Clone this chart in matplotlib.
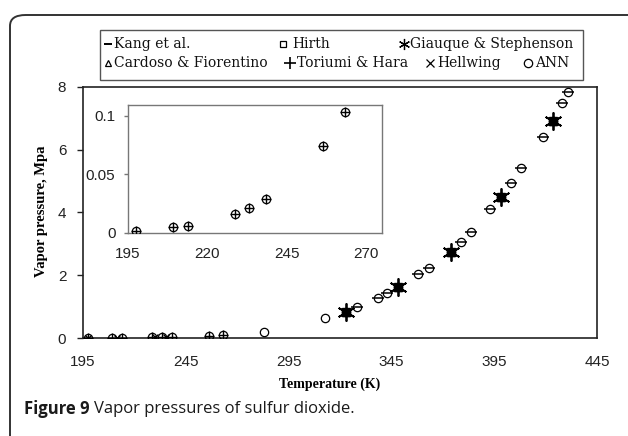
import matplotlib
matplotlib.use("Agg")
import matplotlib.pyplot as plt
from matplotlib.lines import Line2D
from matplotlib.patches import FancyBboxPatch, Rectangle

# ---------------- data ----------------
ann_T = [197.6, 209.3, 213.8, 228.7, 233.2, 238.5, 256.4, 263.3, 282.8, 312.9,
         322.7, 328.4, 338.4, 343.0, 348.2, 358.1, 363.3, 373.8, 378.7, 383.6,
         393.0, 398.2, 403.1, 408.0, 418.5, 423.4, 428.0, 430.7]
ann_P = [0.0017, 0.0048, 0.0056, 0.0165, 0.0213, 0.029, 0.074, 0.103, 0.20, 0.63,
         0.84, 0.98, 1.26, 1.44, 1.62, 2.03, 2.22, 2.75, 3.05, 3.39,
         4.11, 4.50, 4.93, 5.41, 6.42, 6.93, 7.50, 7.85]

kang_T = [328.4, 338.4, 343.0, 358.1, 363.3, 378.7, 383.6, 393.0, 403.1, 408.0, 418.5, 428.0, 430.7]
kang_P = [0.98, 1.26, 1.44, 2.03, 2.22, 3.05, 3.39, 4.11, 4.93, 5.41, 6.42, 7.50, 7.85]

giauque_T = [322.7, 348.2, 373.8, 398.2, 423.4]
giauque_P = [0.84, 1.62, 2.75, 4.50, 6.93]

hirth_T = [322.7, 348.2, 373.8, 398.2, 423.4]
hirth_P = [0.84, 1.62, 2.75, 4.50, 6.93]

cardoso_T = [322.7, 348.2, 373.8, 398.2, 423.4]
cardoso_P = [0.84, 1.62, 2.75, 4.50, 6.93]

toriumi_T = [197.6, 209.3, 213.8, 228.7, 233.2, 238.5, 256.4, 263.3]
toriumi_P = [0.0017, 0.0048, 0.0056, 0.0165, 0.0213, 0.029, 0.074, 0.103]

hellwing_T = [197.6, 211.4, 230.1, 235.6]
hellwing_P = [0.0017, 0.0052, 0.0185, 0.024]

main_xticks = [195, 245, 295, 345, 395, 445]
main_yticks = [0, 2, 4, 6, 8]
inset_xticks = [195, 220, 245, 270]
inset_yticks = [0, 0.05, 0.1]
inset_ylabels = ["0", "0.05", "0.1"]

legend_labels = ["Kang et al.", "Hirth", "Giauque & Stephenson",
                 "Cardoso & Fiorentino", "Toriumi & Hara", "Hellwing", "ANN"]

# ---------------- figure ----------------
W, H = 628, 436
fig = plt.figure(figsize=(W / 100, H / 100), dpi=100)
fig.patch.set_facecolor("white")

def fx(px):
    return px / W

def fy(py):
    return 1 - py / H

# outer rounded frame (right and bottom edges fall outside the picture)
frame = FancyBboxPatch((fx(10), fy(520)), fx(720) - fx(10), fy(15) - fy(520),
                       boxstyle="round,pad=0,rounding_size=0.025",
                       transform=fig.transFigure, fill=False,
                       edgecolor="#333333", linewidth=1.4, clip_on=False)
fig.patches.append(frame)

tick_font = dict(family="Liberation Sans")
ANN_STYLE = dict(marker="o", markersize=6, markerfacecolor="none",
                 markeredgecolor="black", markeredgewidth=0.9, linestyle="none")
ast = (6, 2, 0)

def draw_series(ax, inset=False):
    ax.plot(ann_T, ann_P, **ANN_STYLE, zorder=3)
    if not inset:
        ax.plot(kang_T, kang_P, marker="_", markersize=9, markeredgewidth=1.1,
                color="black", linestyle="none", zorder=4)
        ax.plot(hirth_T, hirth_P, marker="s", markersize=6, markerfacecolor="black",
                markeredgecolor="black", linestyle="none", zorder=4)
        ax.plot(cardoso_T, cardoso_P, marker="^", markersize=6, markerfacecolor="black",
                markeredgecolor="black", linestyle="none", zorder=4)
        ax.plot(giauque_T, giauque_P, marker=ast, markersize=13, markeredgewidth=1.3,
                color="black", linestyle="none", zorder=5)
        ax.plot(hellwing_T, hellwing_P, marker="x", markersize=5, markeredgewidth=1.0,
                color="black", linestyle="none", zorder=4)
    ax.plot(toriumi_T, toriumi_P, marker="+", markersize=7, markeredgewidth=1.0,
            color="black", linestyle="none", zorder=4)

# main axes
ax = fig.add_axes([fx(83), fy(338), fx(597) - fx(83), fy(87) - fy(338)])
draw_series(ax)
ax.set_xlim(195, 445)
ax.set_ylim(0, 8)
ax.set_xticks(main_xticks)
ax.set_yticks(main_yticks)
ax.set_xticklabels([str(t) for t in main_xticks], **tick_font)
ax.set_yticklabels([str(t) for t in main_yticks], **tick_font)
ax.tick_params(axis="x", length=0, pad=12, labelsize=11, labelcolor="#222222")
ax.tick_params(axis="y", direction="out", length=4, width=1.0, pad=8,
               labelsize=11, labelcolor="#222222", color="#222222")
for s in ax.spines.values():
    s.set_color("#222222")
    s.set_linewidth(1.2)

# inset axes
axi = fig.add_axes([fx(128), fy(233), fx(382) - fx(128), fy(105) - fy(233)])
draw_series(axi, inset=True)
axi.set_xlim(195, 275)
axi.set_ylim(0, 0.1094)
axi.set_xticks(inset_xticks)
axi.set_yticks(inset_yticks)
axi.set_xticklabels([str(t) for t in inset_xticks], **tick_font)
axi.set_yticklabels(inset_ylabels, **tick_font)
axi.tick_params(axis="x", length=0, pad=10, labelsize=11, labelcolor="#222222")
axi.tick_params(axis="y", direction="out", length=3, width=1.0, pad=6,
                labelsize=11, labelcolor="#222222", color="#777777")
for s in axi.spines.values():
    s.set_color("#777777")
    s.set_linewidth(1.0)

# axis labels
fig.text(fx(42), fy(211), "Vapor pressure, Mpa", rotation=90, ha="center", va="center",
         family="Liberation Serif", weight="bold", fontsize=10.5)
fig.text(fx(330), fy(384), "Temperature (K)", ha="center", va="center",
         family="Liberation Serif", weight="bold", fontsize=10)

# caption: bold lead-in followed directly by regular text
cap_y = fy(409)
t1 = fig.text(fx(24), cap_y, "Figure 9 ", ha="left", va="center",
              family="Open Sans", weight="bold", fontsize=12, color="#1a1a1a")
fig.canvas.draw()
bb = t1.get_window_extent(renderer=fig.canvas.get_renderer())
fig.text(bb.x1 / W, cap_y, "Vapor pressures of sulfur dioxide.", ha="left", va="center",
         family="Open Sans", fontsize=12, color="#1a1a1a")

# legend box
leg = Rectangle((fx(100), fy(80)), fx(583) - fx(100), fy(30) - fy(80),
                transform=fig.transFigure, fill=False, edgecolor="#555555", linewidth=1.0)
fig.patches.append(leg)

leg_markers = [
    ("_", 108, 44, dict(markersize=6, markeredgewidth=1.4)),
    ("s", 283, 44, dict(markersize=5, markerfacecolor="none", markeredgewidth=0.9)),
    (ast, 404, 44, dict(markersize=8, markeredgewidth=0.9)),
    ("^", 108, 63, dict(markersize=5, markerfacecolor="none", markeredgewidth=0.9)),
    ("+", 290, 63, dict(markersize=8, markeredgewidth=1.2)),
    ("x", 430, 63, dict(markersize=6, markeredgewidth=0.9)),
    ("o", 528, 63, dict(markersize=6, markerfacecolor="none", markeredgewidth=0.9)),
]
leg_text_x = [114, 292, 410, 114, 297, 437, 535]
for (m, x, y, kw), lab, tx in zip(leg_markers, legend_labels, leg_text_x):
    fig.add_artist(Line2D([fx(x)], [fy(y)], marker=m, color="black", linestyle="none",
                          transform=fig.transFigure, **kw))
    fig.text(fx(tx), fy(y), lab, ha="left", va="center", family="DejaVu Serif",
             fontsize=10, color="#111111")

fig.savefig("out.png", dpi=100)
